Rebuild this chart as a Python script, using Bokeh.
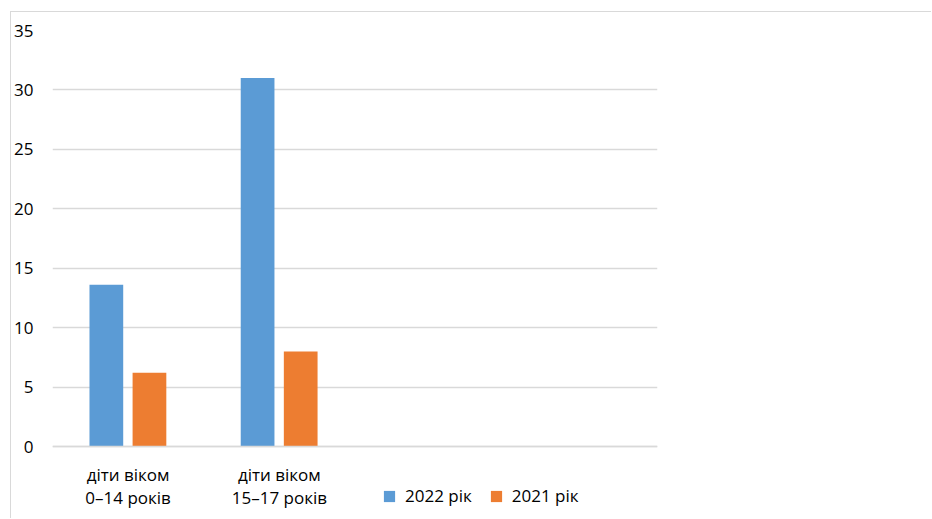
from bokeh.plotting import figure
from bokeh.models import FactorRange, ColumnDataSource, Legend, LegendItem, FixedTicker, Range1d
from bokeh.transform import dodge
from bokeh.embed import file_html
from bokeh.resources import INLINE

categories = ["діти віком\n0–14 років", "діти віком\n15–17 років", "", " "]
series_2022 = [13.6, 31.0, None, None]
series_2021 = [6.2, 8.0, None, None]
series_names = ["2022 рік", "2021 рік"]
y_ticks = [0, 5, 10, 15, 20, 25, 30, 35]
colors = ["#5B9BD5", "#ED7D31"]

FONT = "Open Sans"
GRID = "#d9d9d9"

src = ColumnDataSource(dict(
    cat=categories[:2],
    v2022=series_2022[:2],
    v2021=series_2021[:2],
))

p = figure(
    x_range=FactorRange(factors=categories),
    y_range=Range1d(-6.14, 35),
    width=921, height=507,
    output_backend="svg",
    toolbar_location=None,
    min_border_left=41, min_border_right=275,
    min_border_top=18, min_border_bottom=0,
)
p.margin = (11, 0, 0, 10)
p.styles = {"border-top": "1px solid #d9d9d9", "border-left": "1px solid #d9d9d9"}

r1 = p.vbar(x=dodge("cat", -0.144, range=p.x_range), top="v2022", width=0.223,
            source=src, fill_color=colors[0], line_color=None)
r2 = p.vbar(x=dodge("cat", 0.141, range=p.x_range), top="v2021", width=0.223,
            source=src, fill_color=colors[1], line_color=None)

p.outline_line_color = None
p.xgrid.grid_line_color = None
p.ygrid.grid_line_color = GRID
p.ygrid.grid_line_width = 1.3
p.yaxis.ticker = FixedTicker(ticks=y_ticks)
p.yaxis.axis_line_color = None
p.yaxis.major_tick_line_color = None
p.yaxis.major_tick_out = 0
p.yaxis.major_tick_in = 0
p.yaxis.minor_tick_line_color = None
p.yaxis.major_label_standoff = 19
p.yaxis.major_label_text_font = FONT
p.yaxis.major_label_text_font_size = "17px"
p.yaxis.major_label_text_color = "#000000"

p.xaxis.fixed_location = 0
p.xaxis.axis_line_color = GRID
p.xaxis.axis_line_width = 1.3
p.xaxis.major_tick_line_color = None
p.xaxis.major_tick_out = 0
p.xaxis.major_tick_in = 0
p.xaxis.minor_tick_line_color = None
p.xaxis.major_label_standoff = 16
p.xaxis.major_label_text_font = FONT
p.xaxis.major_label_text_font_size = "17px"
p.xaxis.major_label_text_color = "#000000"
p.xaxis.major_label_text_line_height = 1.0

legend = Legend(
    items=[LegendItem(label=series_names[0], renderers=[r1]),
           LegendItem(label=series_names[1], renderers=[r2])],
    orientation="horizontal",
    location=(330, 12),
    padding=0, margin=0, spacing=17,
    glyph_width=14, glyph_height=14, label_standoff=9,
    border_line_color=None, background_fill_alpha=0,
    label_text_font=FONT, label_text_font_size="17px",
    label_text_color="#000000",
)
p.add_layout(legend, "center")

open("out.html", "w").write(file_html(p, INLINE))
